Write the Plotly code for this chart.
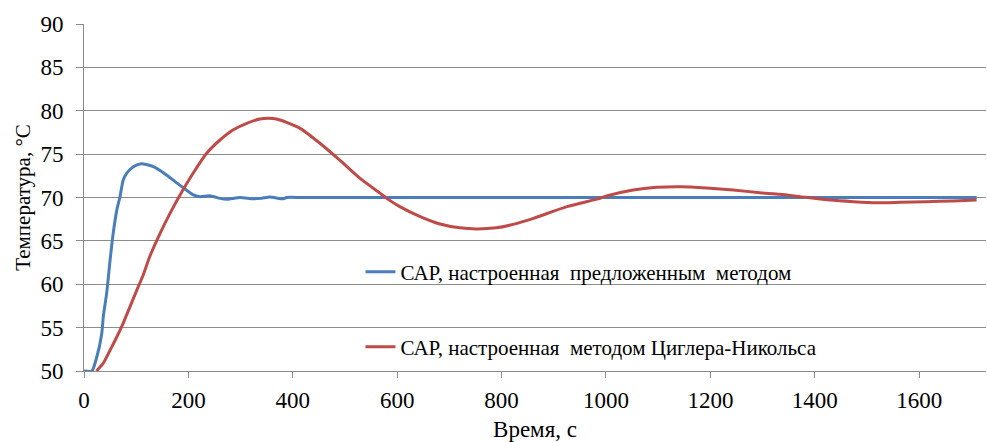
import plotly.graph_objects as go

# Time (s) and temperature (°C) for the system tuned by the proposed method
t_proposed = [0, 15, 24, 34, 37, 43.5, 50, 56, 63, 69, 75, 82, 94.5, 110, 133, 158, 184,
              209.5, 222, 241, 260.5, 273, 299, 324, 340, 356, 382, 388, 420, 600, 800,
              1000, 1200, 1400, 1600, 1710]
v_proposed = [50.0, 50.0, 51.5, 54.3, 56.3, 59.0, 62.8, 65.9, 68.6, 70.1, 72.0, 72.8, 73.55,
              73.9, 73.55, 72.6, 71.4, 70.3, 70.1, 70.2, 69.9, 69.8, 70.0, 69.85, 69.9,
              70.05, 69.85, 70.0, 70.0, 70.0, 70.0, 70.0, 70.0, 70.0, 70.0, 70.0]

# Time (s) and temperature (°C) for the system tuned by the Ziegler–Nichols method
t_zn = [24, 37, 50, 63, 75, 88, 101, 113.6, 126, 146, 165, 184, 209, 235, 260, 286, 311.7,
        337, 362, 375.5, 414, 452, 490, 529, 567, 580, 605, 644, 682, 720, 752, 790, 822,
        861, 925, 988.5, 1001, 1052, 1097, 1142, 1193, 1244, 1295, 1333, 1372, 1429,
        1474, 1518, 1563, 1614, 1665, 1710]
v_zn = [50.0, 50.9, 52.4, 53.95, 55.5, 57.4, 59.3, 61.1, 63.2, 65.9, 68.2, 70.3, 72.8,
        75.1, 76.6, 77.8, 78.55, 79.05, 79.1, 78.93, 77.97, 76.25, 74.3, 72.2, 70.5, 69.9,
        68.95, 67.8, 66.95, 66.5, 66.37, 66.5, 66.9, 67.6, 68.95, 69.9, 70.17, 70.86,
        71.17, 71.25, 71.1, 70.86, 70.55, 70.37, 70.1, 69.7, 69.52, 69.4, 69.45, 69.52,
        69.6, 69.7]

x_ticks = [0, 200, 400, 600, 800, 1000, 1200, 1400, 1600]
y_ticks = [50, 55, 60, 65, 70, 75, 80, 85, 90]

name_proposed = "САР, настроенная\u00a0 предложенным\u00a0 методом"
name_zn = "САР, настроенная\u00a0 методом Циглера-Никольса"

FONT = "Times New Roman, Liberation Serif, serif"
GRID = "#8c8c8c"

fig = go.Figure()
fig.add_trace(go.Scatter(
    x=t_proposed, y=v_proposed, mode="lines", name=name_proposed,
    line=dict(color="#4a7ebb", width=3, shape="spline", smoothing=0.6),
    legend="legend",
))
fig.add_trace(go.Scatter(
    x=t_zn, y=v_zn, mode="lines", name=name_zn,
    line=dict(color="#be4b48", width=3, shape="spline", smoothing=0.6),
    legend="legend2",
))

legend_style = dict(
    xref="paper", yref="paper", xanchor="left", yanchor="middle",
    bgcolor="rgba(0,0,0,0)", borderwidth=0,
    font=dict(family=FONT, size=21, color="#000000"),
)

fig.update_layout(
    width=987, height=442,
    margin=dict(l=84, r=1, t=24, b=71, autoexpand=False),
    paper_bgcolor="white", plot_bgcolor="white",
    font=dict(family=FONT, color="#000000"),
    showlegend=True,
    legend=dict(x=0.3065, y=0.285, **legend_style),
    legend2=dict(x=0.3065, y=0.069, **legend_style),
    xaxis=dict(
        range=[0, 1728], tickvals=x_ticks, ticktext=[str(v) for v in x_ticks],
        showgrid=False, zeroline=False, automargin=False,
        showline=True, linecolor=GRID, linewidth=1,
        ticks="outside", ticklen=6, tickcolor=GRID, tickwidth=1,
        tickfont=dict(family=FONT, size=23, color="#000000"),
        ticklabelstandoff=2,
        title=dict(text="Время, с", font=dict(family=FONT, size=23, color="#000000"),
                   standoff=20),
    ),
    yaxis=dict(
        range=[50, 90], tickvals=y_ticks, ticktext=[str(v) for v in y_ticks],
        showgrid=True, gridcolor=GRID, gridwidth=1, zeroline=False, automargin=False,
        showline=True, linecolor=GRID, linewidth=1,
        ticks="outside", ticklen=7, tickcolor=GRID, tickwidth=1,
        tickfont=dict(family=FONT, size=23, color="#000000"),
        ticklabelstandoff=8,
        title=dict(text="Температура, °C", font=dict(family=FONT, size=21, color="#000000"),
                   standoff=4),
    ),
)

fig.write_html("out.html")
